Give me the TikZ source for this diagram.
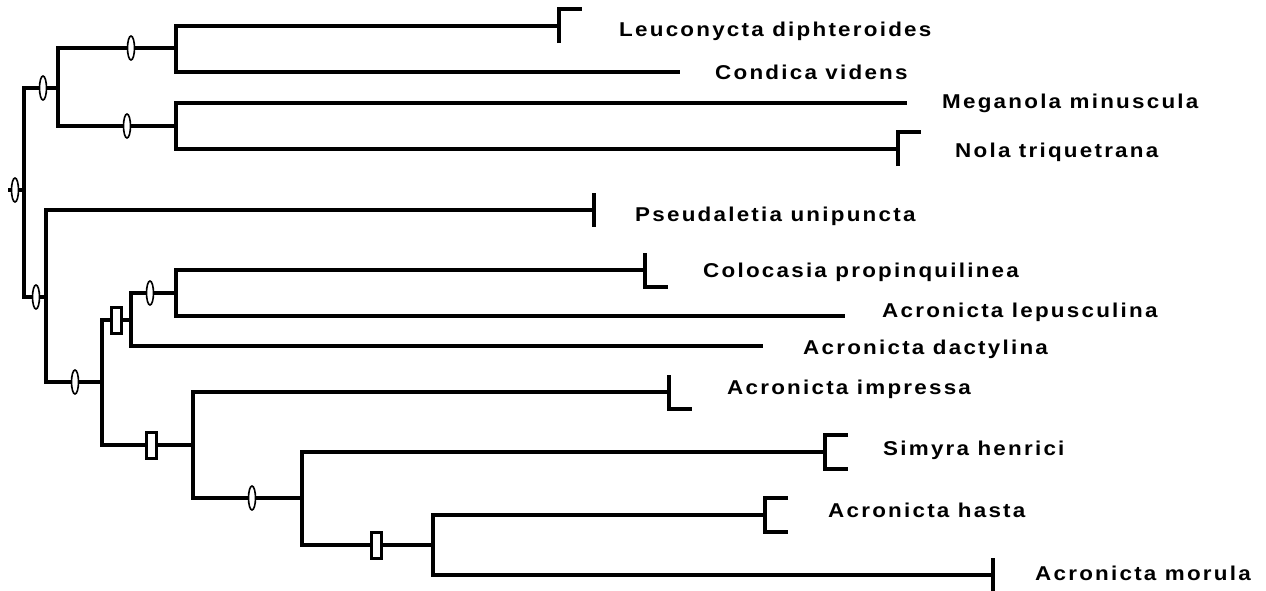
\documentclass[tikz,border=0pt]{standalone}
\usepackage{fontspec}
\usepackage{graphicx}
\usetikzlibrary{shapes.geometric,calc,positioning}
\newfontfamily\taxfont[LetterSpace=10]{Liberation Sans}
\newcommand{\taxname}[1]{\scalebox{1.12}[1]{#1}}

\begin{document}
\begin{tikzpicture}[x=1pt, y=-1pt,
    branch/.style={line width=4.5pt, line join=miter},
    ellmark/.style={draw, fill=white, ellipse, inner sep=0pt, line width=1.6pt, minimum width=7pt, minimum height=24pt},
    boxmark/.style={draw, fill=white, rectangle, inner sep=0pt, line width=3pt, minimum width=10pt, minimum height=26pt},
    taxon/.style={anchor=base west, inner sep=0pt, font=\taxfont\bfseries\fontsize{20}{20}\selectfont}]

    \useasboundingbox (0,0) rectangle (1266,590);
    \clip (0,0) rectangle (1266,590);

    \def\arm{23}    % bracket arm length
    \def\half{17}   % bracket half height

    % Internal nodes
    \coordinate (stub) at (8,190);
    \coordinate (root) at (24,190);
    \coordinate (nA) at (58,88);
    \coordinate (nB) at (176,48);
    \coordinate (nC) at (176,126);
    \coordinate (nD) at (46,297);
    \coordinate (nE) at (102,382);
    \coordinate (nF) at (131,320);
    \coordinate (nG) at (176,293);
    \coordinate (nH) at (193,445);
    \coordinate (nI) at (302,498);
    \coordinate (nJ) at (433,545);

    % Tips
    \coordinate (tLeuc) at (559,26);
    \coordinate (tCond) at (680,72);
    \coordinate (tMega) at (907,103);
    \coordinate (tNola) at (898,149);
    \coordinate (tPseu) at (594,210);
    \coordinate (tColo) at (645,270);
    \coordinate (tLepu) at (845,316);
    \coordinate (tDact) at (763,346);
    \coordinate (tImpr) at (669,392);
    \coordinate (tSimy) at (825,452);
    \coordinate (tHast) at (765,515);
    \coordinate (tMoru) at (993,575);

    % Branches
    \draw[branch] (stub) -- (root);
    \draw[branch] (root) |- (nA);
    \draw[branch] (root) |- (nD);
    \draw[branch] (nA) |- (nB);
    \draw[branch] (nA) |- (nC);
    \draw[branch] (nB) |- (tLeuc);
    \draw[branch] (nB) |- (tCond);
    \draw[branch] (nC) |- (tMega);
    \draw[branch] (nC) |- (tNola);
    \draw[branch] (nD) |- (tPseu);
    \draw[branch] (nD) |- (nE);
    \draw[branch] (nE) |- (nF);
    \draw[branch] (nE) |- (nH);
    \draw[branch] (nF) |- (nG);
    \draw[branch] (nF) |- (tDact);
    \draw[branch] (nG) |- (tColo);
    \draw[branch] (nG) |- (tLepu);
    \draw[branch] (nH) |- (tImpr);
    \draw[branch] (nH) |- (nI);
    \draw[branch] (nI) |- (tSimy);
    \draw[branch] (nI) |- (nJ);
    \draw[branch] (nJ) |- (tHast);
    \draw[branch] (nJ) |- (tMoru);

    % Branch markers
    \node[ellmark] (mRoot) at (15,190) {};
    \node[ellmark] (mA) at (43,88) {};
    \node[ellmark] (mB) at (131,48) {};
    \node[ellmark] (mC) at (127,126) {};
    \node[ellmark] (mD) at (36,297) {};
    \node[ellmark] (mE) at (75,382) {};
    \node[ellmark] (mG) at (150,293) {};
    \node[ellmark] (mI) at (252,498) {};
    \node[boxmark] (mF) at (116,320) {};
    \node[boxmark] (mH) at (151,445) {};
    \node[boxmark] (mJ) at (376,545) {};

    % Tip brackets
    \draw[branch] ($(tLeuc)+(0,\half)$) -- ++(0,-2*\half) -- ++(\arm,0);
    \draw[branch] ($(tNola)+(0,\half)$) -- ++(0,-2*\half) -- ++(\arm,0);
    \draw[branch] ($(tColo)+(0,-\half)$) -- ++(0,2*\half) -- ++(\arm,0);
    \draw[branch] ($(tImpr)+(0,-\half)$) -- ++(0,2*\half) -- ++(\arm,0);
    \draw[branch] ($(tSimy)+(\arm,-\half)$) -- ++(-\arm,0) -- ++(0,2*\half) -- ++(\arm,0);
    \draw[branch] ($(tHast)+(\arm,-\half)$) -- ++(-\arm,0) -- ++(0,2*\half) -- ++(\arm,0);
    \draw[branch] ($(tPseu)+(0,-\half)$) -- ++(0,2*\half);
    \draw[branch] ($(tMoru)+(0,-\half)$) -- ++(0,2*\half);

    % Taxon labels
    \node[taxon] (lLeuc) at (619,36) {\taxname{Leuconycta diphteroides}};
    \node[taxon] (lCond) at (715,79) {\taxname{Condica videns}};
    \node[taxon] (lMega) at (942,108) {\taxname{Meganola minuscula}};
    \node[taxon] (lNola) at (955,157) {\taxname{Nola triquetrana}};
    \node[taxon] (lPseu) at (635,221) {\taxname{Pseudaletia unipuncta}};
    \node[taxon] (lColo) at (703,277) {\taxname{Colocasia propinquilinea}};
    \node[taxon] (lLepu) at (882,317) {\taxname{Acronicta lepusculina}};
    \node[taxon] (lDact) at (803,354) {\taxname{Acronicta dactylina}};
    \node[taxon] (lImpr) at (727,394) {\taxname{Acronicta impressa}};
    \node[taxon] (lSimy) at (883,455) {\taxname{Simyra henrici}};
    \node[taxon] (lHast) at (828,517) {\taxname{Acronicta hasta}};
    \node[taxon] (lMoru) at (1035,580) {\taxname{Acronicta morula}};

\end{tikzpicture}
\end{document}
